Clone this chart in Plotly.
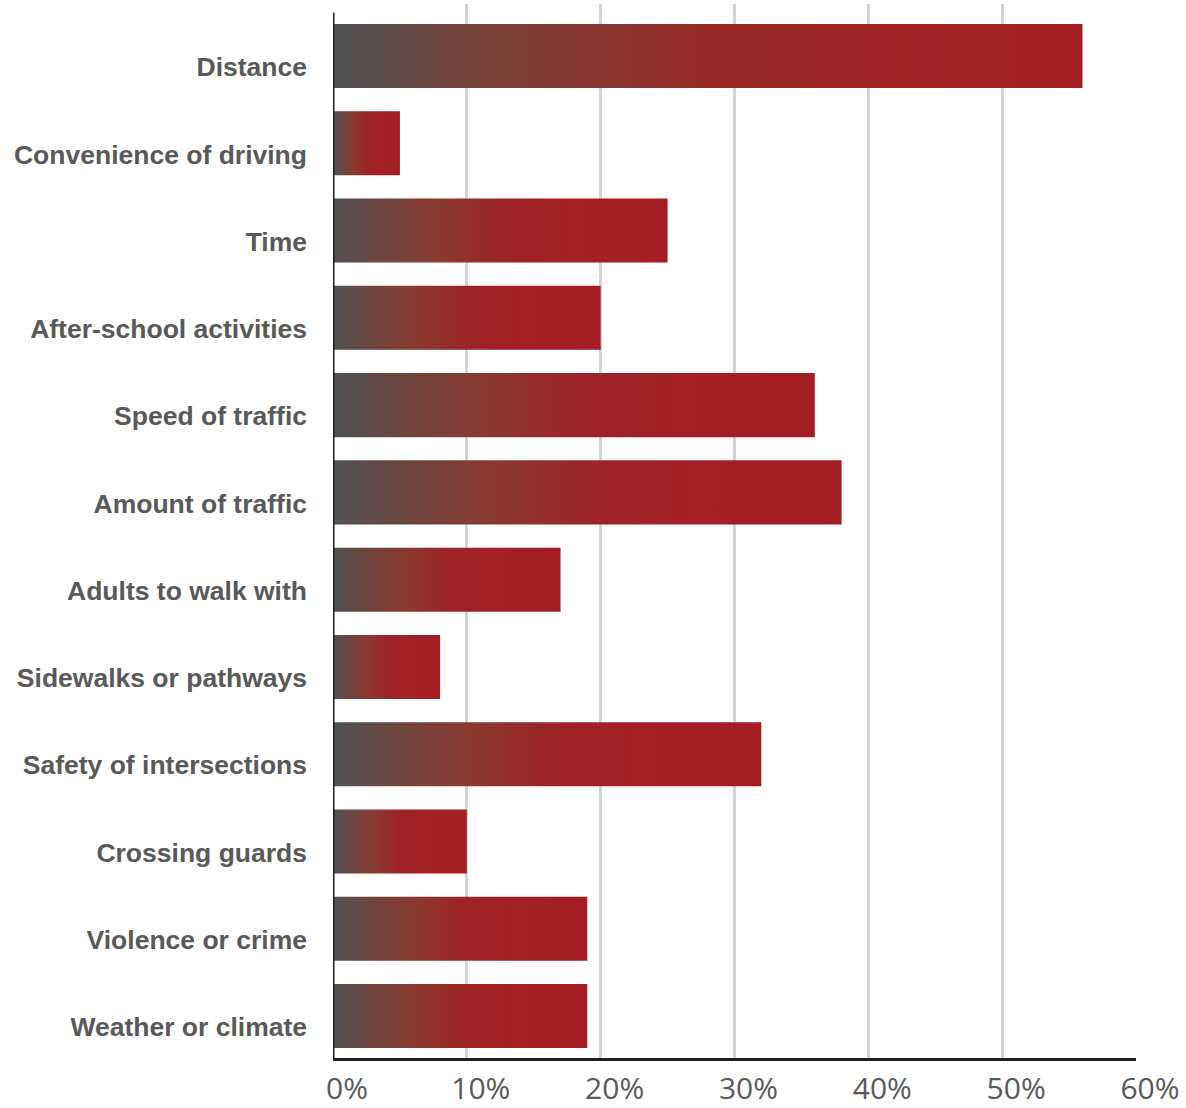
import plotly.graph_objects as go

# Survey responses: barriers to walking/biking to school
categories = [
    "Distance",
    "Convenience of driving",
    "Time",
    "After-school activities",
    "Speed of traffic",
    "Amount of traffic",
    "Adults to walk with",
    "Sidewalks or pathways",
    "Safety of intersections",
    "Crossing guards",
    "Violence or crime",
    "Weather or climate",
]
values = [56, 5, 25, 20, 36, 38, 17, 8, 32, 10, 19, 19]

x_tick_values = [0, 10, 20, 30, 40, 50, 60]
x_tick_labels = ["0%", "10%", "20%", "30%", "40%", "50%", "60%"]

# Gray-to-red fill running along each bar
bar_scale = [
    [0.0, "#4f5253"],
    [0.15, "#6e4540"],
    [0.31, "#893a31"],
    [0.5, "#9c2428"],
    [0.7, "#a31e25"],
    [1.0, "#a41d24"],
]
long_bar_scale = [
    [0.0, "#4f5253"],
    [0.22, "#7c4137"],
    [0.49, "#962a2a"],
    [0.75, "#9f2227"],
    [1.0, "#a31d24"],
]

BAR_HALF = 0.367
Y_TOP = -0.596
Y_BOTTOM = 11.481

fig = go.Figure()
for i, (cat, v) in enumerate(zip(categories, values)):
    scale = long_bar_scale if v == max(values) else bar_scale
    fig.add_trace(
        go.Scatter(
            x=[0, v, v, 0, 0],
            y=[i - BAR_HALF, i - BAR_HALF, i + BAR_HALF, i + BAR_HALF, i - BAR_HALF],
            mode="lines",
            line=dict(width=0, color="rgba(0,0,0,0)"),
            fill="toself",
            fillgradient=dict(type="horizontal", colorscale=scale),
            name=cat,
            hoverinfo="skip",
            showlegend=False,
        )
    )

# Vertical axis line along the category bands
fig.add_shape(
    type="line",
    xref="x",
    yref="y",
    x0=0,
    x1=0,
    y0=-0.5,
    y1=Y_BOTTOM,
    line=dict(color="#231f20", width=3),
    layer="above",
)

fig.update_layout(
    width=1186,
    height=1108,
    margin=dict(l=333, r=50, t=4, b=50, autoexpand=False),
    paper_bgcolor="white",
    plot_bgcolor="white",
    showlegend=False,
    xaxis=dict(
        range=[0, 60],
        tickmode="array",
        tickvals=x_tick_values,
        ticktext=x_tick_labels,
        showgrid=True,
        gridcolor="#d4d4d4",
        gridwidth=2.5,
        zeroline=False,
        showline=True,
        linecolor="#231f20",
        linewidth=3,
        ticks="",
        tickfont=dict(family="Open Sans", size=30, color="#595959"),
        ticklabelshift=14,
        ticklabelstandoff=2,
        automargin=False,
        fixedrange=True,
    ),
    yaxis=dict(
        range=[Y_BOTTOM, Y_TOP],
        tickmode="array",
        tickvals=list(range(len(categories))),
        ticktext=categories,
        showgrid=False,
        zeroline=False,
        showline=False,
        ticks="",
        tickfont=dict(family="Liberation Sans", size=26.5, color="#595959", weight="bold"),
        ticklabelshift=-11,
        ticklabelstandoff=25,
        automargin=False,
        fixedrange=True,
    ),
)

fig.write_html("out.html")
